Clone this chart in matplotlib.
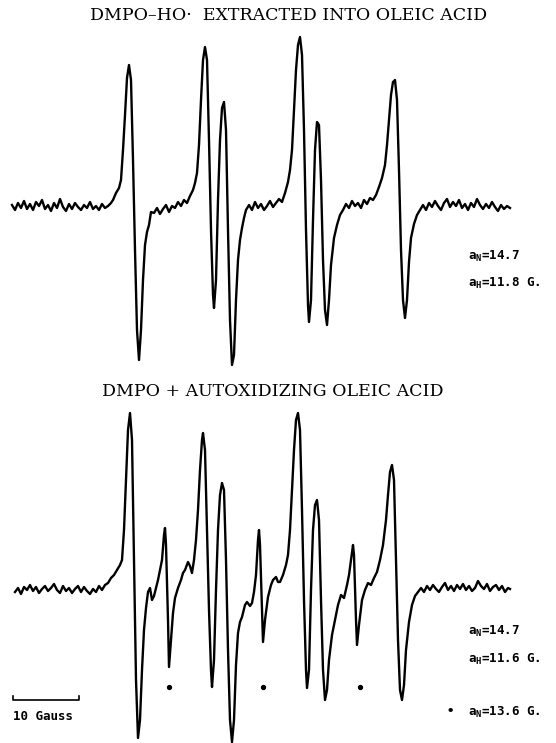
import numpy as np
import matplotlib
matplotlib.use("Agg")
import matplotlib.pyplot as plt

top_field = [12, 15, 18, 21, 24, 27, 30, 33, 36, 39, 42, 45, 48, 51, 54, 57, 60, 63, 66, 69,
             72, 75, 78, 81, 84, 87, 90, 93, 96, 99, 102, 105, 108, 111, 113, 116, 119, 121, 123, 125,
             127, 129, 131, 133, 135, 137, 139, 141, 143, 145, 147, 149, 151, 154, 157, 160, 163, 166, 169, 172,
             175, 178, 181, 184, 187, 190, 193, 195, 197, 199, 201, 203, 205, 207, 209, 211, 213, 214, 216, 218,
             220, 222, 224, 226, 228, 230, 232, 234, 236, 238, 240, 242, 244, 246, 249, 252, 255, 258, 261, 264,
             267, 270, 273, 276, 279, 282, 285, 288, 290, 292, 294, 296, 298, 300, 302, 304, 306, 308, 309, 311,
             313, 315, 317, 319, 321, 323, 325, 327, 329, 331, 334, 337, 340, 343, 346, 349, 352, 355, 358, 361,
             364, 367, 370, 373, 376, 379, 382, 385, 387, 389, 391, 393, 395, 397, 399, 401, 403, 405, 407, 409,
             411, 414, 417, 420, 423, 426, 429, 432, 435, 438, 441, 444, 447, 450, 453, 456, 459, 462, 465, 468,
             471, 474, 477, 480, 483, 486, 489, 492, 495, 498, 501, 504, 507, 510]
top_read = [205, 210, 203, 208, 201, 209, 204, 210, 202, 206, 200, 209, 205, 211, 203, 208, 199, 207, 211, 204,
            209, 203, 207, 210, 205, 208, 202, 209, 206, 210, 204, 208, 206, 203, 200, 193, 188, 180, 150, 115,
            78, 65, 80, 160, 250, 330, 360, 330, 280, 245, 232, 225, 212, 213, 208, 214, 209, 205, 212, 206,
            208, 202, 206, 200, 203, 196, 190, 183, 173, 145, 100, 60, 47, 60, 140, 230, 295, 308, 280, 200,
            140, 108, 102, 130, 230, 320, 365, 355, 300, 260, 240, 228, 218, 210, 205, 210, 202, 208, 204, 210,
            206, 201, 207, 203, 199, 202, 193, 182, 170, 150, 110, 70, 45, 37, 55, 130, 230, 305, 322, 300,
            220, 150, 122, 125, 180, 260, 310, 325, 300, 265, 238, 225, 215, 210, 204, 208, 201, 206, 203, 208,
            200, 204, 198, 200, 195, 187, 178, 165, 145, 120, 95, 82, 80, 100, 170, 250, 300, 318, 300, 262,
            238, 224, 215, 210, 205, 210, 203, 207, 201, 206, 210, 203, 199, 207, 202, 206, 200, 208, 204, 210,
            203, 207, 199, 205, 209, 204, 208, 202, 207, 211, 205, 209, 206, 208]

bot_field = [15, 18, 21, 24, 27, 30, 33, 36, 39, 42, 45, 48, 51, 54, 57, 60, 63, 66, 69, 72,
             75, 78, 81, 84, 87, 90, 93, 96, 99, 102, 105, 108, 111, 114, 117, 120, 122, 124, 126, 128,
             130, 132, 134, 136, 138, 140, 142, 144, 146, 148, 150, 152, 154, 156, 158, 160, 162, 164, 165, 166,
             168, 169, 171, 173, 175, 178, 181, 183, 185, 188, 190, 192, 194, 196, 198, 200, 202, 203, 205, 207,
             209, 211, 212, 214, 216, 218, 220, 222, 224, 226, 228, 230, 232, 234, 236, 238, 240, 242, 245, 247,
             250, 252, 254, 256, 258, 259, 260, 262, 263, 265, 268, 271, 273, 276, 278, 280, 283, 286, 288, 290,
             292, 294, 296, 298, 300, 302, 304, 306, 307, 309, 311, 313, 315, 317, 319, 321, 323, 325, 327, 329,
             332, 335, 338, 341, 344, 347, 349, 351, 353, 354, 356, 357, 359, 362, 365, 368, 371, 374, 377, 380,
             383, 386, 388, 390, 392, 394, 396, 398, 400, 402, 404, 406, 409, 412, 415, 418, 421, 424, 427, 430,
             433, 436, 439, 442, 445, 448, 451, 454, 457, 460, 463, 466, 469, 472, 475, 478, 481, 484, 487, 490,
             493, 496, 499, 502, 505, 508, 510]
bot_read = [592, 588, 594, 587, 590, 585, 591, 587, 593, 589, 586, 591, 588, 584, 590, 593, 586, 591, 588, 593,
            589, 586, 592, 587, 591, 594, 589, 592, 586, 590, 585, 583, 578, 575, 570, 565, 560, 530, 480, 430,
            413, 440, 560, 680, 738, 720, 670, 630, 608, 592, 588, 600, 596, 588, 580, 570, 560, 535, 528, 545,
            620, 667, 640, 613, 598, 588, 580, 573, 570, 562, 566, 573, 560, 540, 510, 470, 440, 433, 450, 530,
            610, 670, 687, 660, 590, 530, 495, 483, 490, 560, 650, 720, 742, 720, 665, 633, 622, 617, 605, 602,
            606, 603, 592, 575, 540, 530, 545, 610, 642, 620, 597, 585, 580, 577, 582, 582, 575, 565, 555, 530,
            490, 450, 420, 413, 430, 510, 600, 670, 688, 670, 590, 530, 505, 500, 520, 600, 670, 700, 690, 660,
            635, 620, 605, 595, 598, 585, 575, 560, 545, 555, 620, 645, 625, 600, 590, 583, 585, 578, 572, 560,
            545, 520, 495, 472, 465, 480, 560, 640, 690, 700, 685, 650, 622, 605, 596, 592, 588, 592, 586, 590,
            585, 589, 592, 587, 583, 590, 586, 591, 585, 589, 584, 590, 586, 591, 588, 581, 586, 589, 584, 591,
            587, 585, 590, 586, 592, 588, 589]

# second-adduct lines (a_N = 13.6 G) marked with dots
dot_field = [169, 263, 360]
dot_read = [687, 687, 687]

top_base = 207
bot_base = 590
W, H = 556, 743

top_signal = top_base - np.array(top_read)
bot_signal = bot_base - np.array(bot_read)
dot_signal = bot_base - np.array(dot_read)

fig = plt.figure(figsize=(W / 100, H / 100), dpi=100)

def px_axes(y_top, y_bot, base):
    ax = fig.add_axes([0, 1 - y_bot / H, 1, (y_bot - y_top) / H])
    ax.set_xlim(0, W)
    ax.set_ylim(base - y_bot, base - y_top)
    ax.axis("off")
    return ax

ax1 = px_axes(30, 380, top_base)
ax1.plot(top_field, top_signal, color="black", lw=1.7, solid_joinstyle="round")

ax2 = px_axes(400, 743, bot_base)
ax2.plot(bot_field, bot_signal, color="black", lw=1.7, solid_joinstyle="round")
ax2.plot(dot_field, dot_signal, "o", color="black", ms=2.8)

# scale bar, 10 gauss
gauss = 6.6
sb_x0, sb_y = 13, bot_base - 700
ax2.plot([sb_x0, sb_x0, sb_x0 + 10 * gauss, sb_x0 + 10 * gauss],
         [sb_y + 4, sb_y, sb_y, sb_y + 4], color="black", lw=1.2)

serif = {"family": "DejaVu Serif", "size": 12.5}
fig.text(289 / W, 1 - 15 / H, "DMPO\u2013HO\u00b7  EXTRACTED INTO OLEIC ACID",
         ha="center", va="center", fontdict=serif)
fig.text(273 / W, 1 - 392 / H, "DMPO + AUTOXIDIZING OLEIC ACID",
         ha="center", va="center", fontdict=serif)

mono = {"family": "DejaVu Sans Mono", "size": 9, "weight": "bold"}
fig.text(468 / W, 1 - 256 / H, r"a$_\mathregular{N}$=14.7", va="center", fontdict=mono)
fig.text(468 / W, 1 - 283 / H, r"a$_\mathregular{H}$=11.8 G.", va="center", fontdict=mono)
fig.text(468 / W, 1 - 631 / H, r"a$_\mathregular{N}$=14.7", va="center", fontdict=mono)
fig.text(468 / W, 1 - 659 / H, r"a$_\mathregular{H}$=11.6 G.", va="center", fontdict=mono)
fig.text(450 / W, 1 - 712 / H, "\u2022", va="center", ha="center", fontdict=mono)
fig.text(468 / W, 1 - 712 / H, r"a$_\mathregular{N}$=13.6 G.", va="center", fontdict=mono)
fig.text(13 / W, 1 - 716 / H, "10 Gauss", va="center", fontdict=mono)

fig.savefig("out.png", dpi=100)
